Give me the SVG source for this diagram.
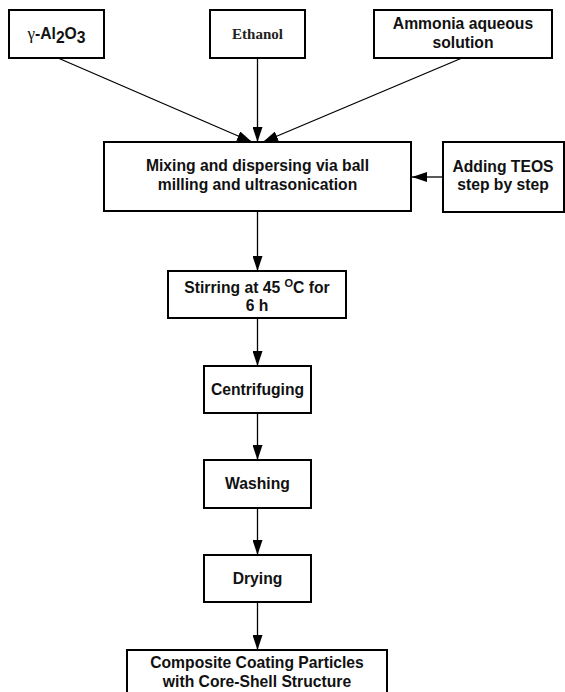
<svg xmlns="http://www.w3.org/2000/svg" width="565" height="692" viewBox="0 0 565 692">
<style>
.box{fill:#fff;stroke:#000;stroke-width:2}
.t{font-family:"Liberation Sans",Arial,sans-serif;font-weight:bold;font-size:15.7px;fill:#111;text-anchor:middle}
.s{font-family:"Liberation Serif","Times New Roman",serif;font-weight:bold;font-size:15px;fill:#222;text-anchor:middle}
.c{stroke:#000;stroke-width:1.3;fill:none}
</style>
<defs>
<marker id="ah" viewBox="0 0 15 10" refX="15" refY="5" markerWidth="15" markerHeight="10" markerUnits="userSpaceOnUse" orient="auto">
<path d="M0,0 L15,5 L0,10 Z" fill="#000"/>
</marker>
</defs>
<rect width="565" height="692" fill="#fff"/>
<g id="connectors">
<line class="c" x1="58" y1="58" x2="252" y2="142" marker-end="url(#ah)"/>
<line class="c" x1="257.5" y1="58" x2="257.5" y2="142" marker-end="url(#ah)"/>
<line class="c" x1="462" y1="58" x2="263" y2="142" marker-end="url(#ah)"/>
<line class="c" x1="443" y1="177" x2="412" y2="177" marker-end="url(#ah)"/>
<line class="c" x1="257.5" y1="211" x2="257.5" y2="271" marker-end="url(#ah)"/>
<line class="c" x1="257.5" y1="318" x2="257.5" y2="366" marker-end="url(#ah)"/>
<line class="c" x1="257.5" y1="413" x2="257.5" y2="460" marker-end="url(#ah)"/>
<line class="c" x1="257.5" y1="508" x2="257.5" y2="555" marker-end="url(#ah)"/>
<line class="c" x1="257.5" y1="602" x2="257.5" y2="650" marker-end="url(#ah)"/>
</g>
<g id="n-al2o3">
<rect class="box" x="9" y="10" width="95" height="48"/>
<text class="t" x="56.5" y="39"><tspan style="font-family:'Liberation Serif',serif;font-weight:normal;font-size:17px">γ</tspan>-Al<tspan dy="4">2</tspan><tspan dy="-4">O</tspan><tspan dy="4">3</tspan></text>
</g>
<g id="n-ethanol">
<rect class="box" x="210" y="10" width="95" height="48"/>
<text class="s" x="257.5" y="39">Ethanol</text>
</g>
<g id="n-ammonia">
<rect class="box" x="374" y="10" width="178" height="48"/>
<text class="t" x="463" y="29">Ammonia aqueous</text>
<text class="t" x="463" y="48">solution</text>
</g>
<g id="n-mixing">
<rect class="box" x="104" y="142" width="307" height="69"/>
<text class="t" x="257.5" y="171">Mixing and dispersing via ball</text>
<text class="t" x="257.5" y="190">milling and ultrasonication</text>
</g>
<g id="n-teos">
<rect class="box" x="443" y="142" width="121" height="70"/>
<text class="t" x="503" y="172">Adding TEOS</text>
<text class="t" x="503" y="190">step by step</text>
</g>
<g id="n-stirring">
<rect class="box" x="168" y="271" width="178" height="47"/>
<text class="t" x="257" y="293">Stirring at 45 <tspan dy="-6" style="font-size:11px">O</tspan><tspan dy="6">C for</tspan></text>
<text class="t" x="257" y="311">6 h</text>
</g>
<g id="n-centrifuging">
<rect class="box" x="204" y="366" width="107" height="47"/>
<text class="t" x="257.5" y="395">Centrifuging</text>
</g>
<g id="n-washing">
<rect class="box" x="204" y="460" width="107" height="48"/>
<text class="t" x="257.5" y="489">Washing</text>
</g>
<g id="n-drying">
<rect class="box" x="204" y="555" width="107" height="47"/>
<text class="t" x="257.5" y="584">Drying</text>
</g>
<g id="n-composite">
<rect class="box" x="127" y="650" width="260" height="60"/>
<text class="t" x="257" y="668">Composite Coating Particles</text>
<text class="t" x="257" y="687">with Core-Shell Structure</text>
</g>
</svg>
